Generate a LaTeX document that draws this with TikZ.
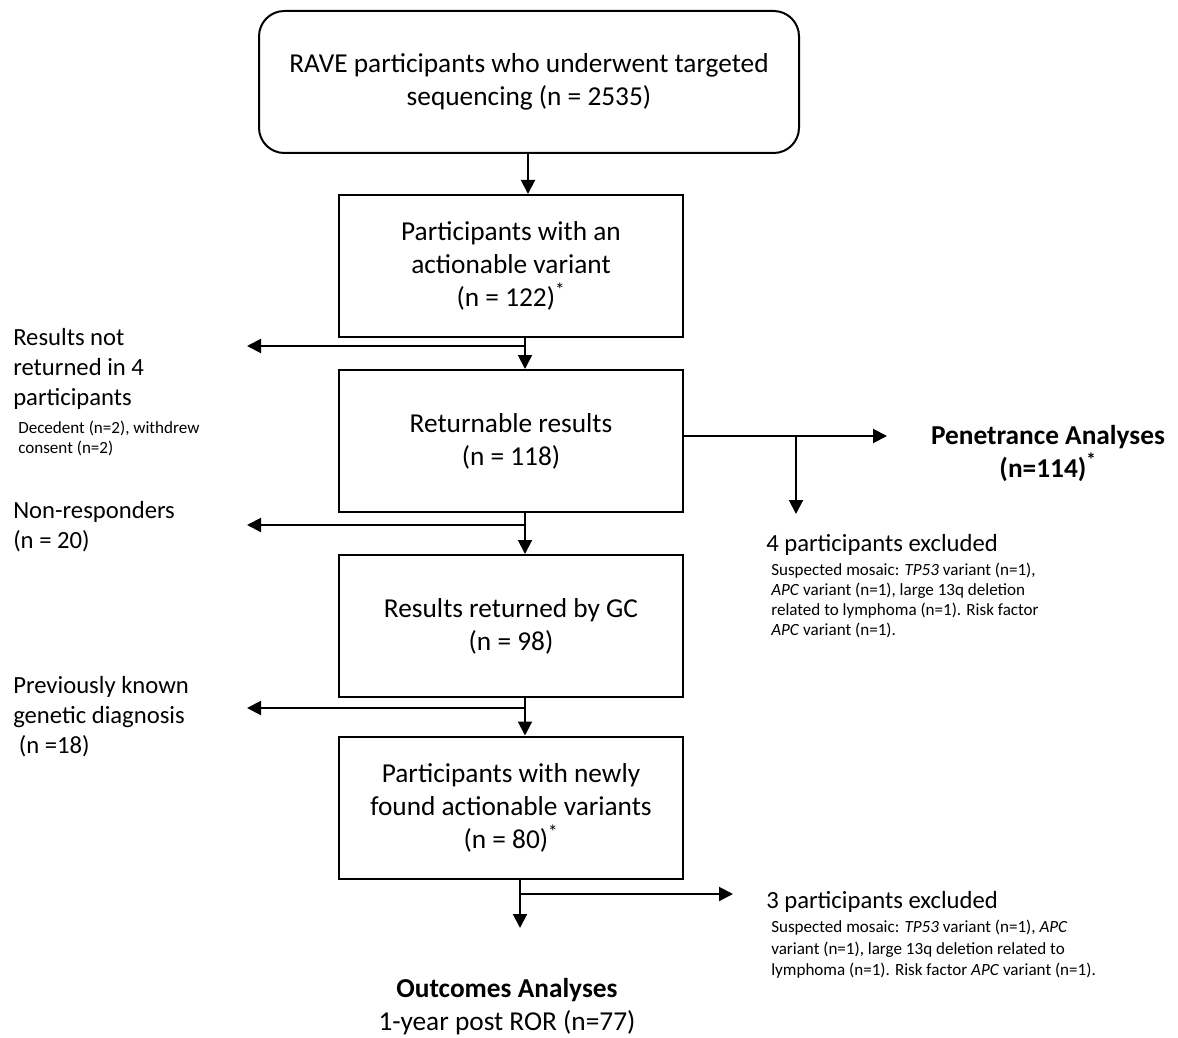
\documentclass[tikz,border=0pt]{standalone}
\usepackage{fontspec}
\setmainfont{Carlito}
\usetikzlibrary{arrows.meta,calc}
\begin{document}
\begin{tikzpicture}[x=0.75pt,y=-0.75pt,
  box/.style={draw,line width=1.5pt,minimum width=258pt,minimum height=106.5pt,inner sep=0pt,align=center,font=\fontsize{20.5}{24.75}\selectfont},
  arr/.style={line width=1.5pt,-{Triangle[length=10.5pt,width=10.5pt]}},
  big/.style={font=\fontsize{18.5}{22.5}\selectfont,align=left,inner sep=0pt,anchor=north west},
  small/.style={font=\fontsize{12.8}{15}\selectfont,align=left,inner sep=0pt,anchor=north west},
  head/.style={font=\fontsize{20.5}{24.75}\selectfont,align=center,inner sep=0pt},
]
\useasboundingbox (0,0) rectangle (1178,1038);
% boxes
\node[box,rounded corners=19pt,minimum width=405pt] (top) at (529,82) {RAVE participants who underwent targeted\\sequencing (n = 2535)};
\node[box] (b2) at (511,266) {Participants with an\\actionable variant\\(n = 122)\textsuperscript{*}};
\node[box] (b3) at (511,441) {Returnable results\\(n = 118)};
\node[box] (b4) at (511,626) {Results returned by GC\\(n = 98)};
\node[box] (b5) at (511,807.5) {Participants with newly\\found actionable variants\\(n = 80)\textsuperscript{*}};
% side labels
\node[big] (l1) at (13,328) {Results not\\returned in 4\\participants};
\node[small] (l1s) at (18,421) {Decedent (n=2), withdrew\\consent (n=2)};
\node[big] (l2) at (13,501) {Non-responders\\(n = 20)};
\node[big] (l3) at (13,676) {Previously known\\genetic diagnosis\\\ (n =18)};
\node[head,font=\fontsize{20.5}{24.75}\selectfont\bfseries] (pen) at (1048,453) {Penetrance Analyses\\(n=114)\textsuperscript{*}};
\node[big] (r1) at (766,534) {4 participants excluded};
\node[small] (r1s) at (771,563) {Suspected mosaic: \textit{TP53} variant (n=1),\\\textit{APC} variant (n=1), large 13q deletion\\related to lymphoma (n=1). Risk factor\\\textit{APC} variant (n=1).};
\node[big] (r2) at (766,891) {3 participants excluded};
\node[small,font=\fontsize{12.8}{16}\selectfont] (r2s) at (771,920) {Suspected mosaic: \textit{TP53} variant (n=1), \textit{APC}\\variant (n=1), large 13q deletion related to\\lymphoma (n=1). Risk factor \textit{APC} variant (n=1).};
\node[head] (out) at (507,1007) {\textbf{Outcomes Analyses}\\1-year post ROR (n=77)};
% junction coordinates
\coordinate (t1) at ($(top.south)+(-1,0)$);
\coordinate (j1) at (525,346);
\coordinate (e1) at (247,346);
\coordinate (j2) at (796,436);
\coordinate (e2) at (887,436);
\coordinate (e3) at (796,514);
\coordinate (j3) at (525,525);
\coordinate (e4) at (247,525);
\coordinate (j4) at (525,708);
\coordinate (e5) at (247,708);
\coordinate (j5) at (520,894);
\coordinate (e6) at (520,928);
\coordinate (e7) at (733,894);
% connectors
\draw[arr] (t1) -- (t1 |- b2.north);
\draw[arr] ($(b2.south)+(14,0)$) -- ($(b3.north)+(14,0)$);
\draw[arr] (j1) -- (e1);
\draw[arr] (b3.east |- j2) -- (e2);
\draw[arr] (j2) -- (e3);
\draw[arr] ($(b3.south)+(14,0)$) -- ($(b4.north)+(14,0)$);
\draw[arr] (j3) -- (e4);
\draw[arr] ($(b4.south)+(14,0)$) -- ($(b5.north)+(14,0)$);
\draw[arr] (j4) -- (e5);
\draw[arr] (b5.south -| j5) -- (e6);
\draw[arr] (j5) -- (e7);
\end{tikzpicture}
\end{document}
